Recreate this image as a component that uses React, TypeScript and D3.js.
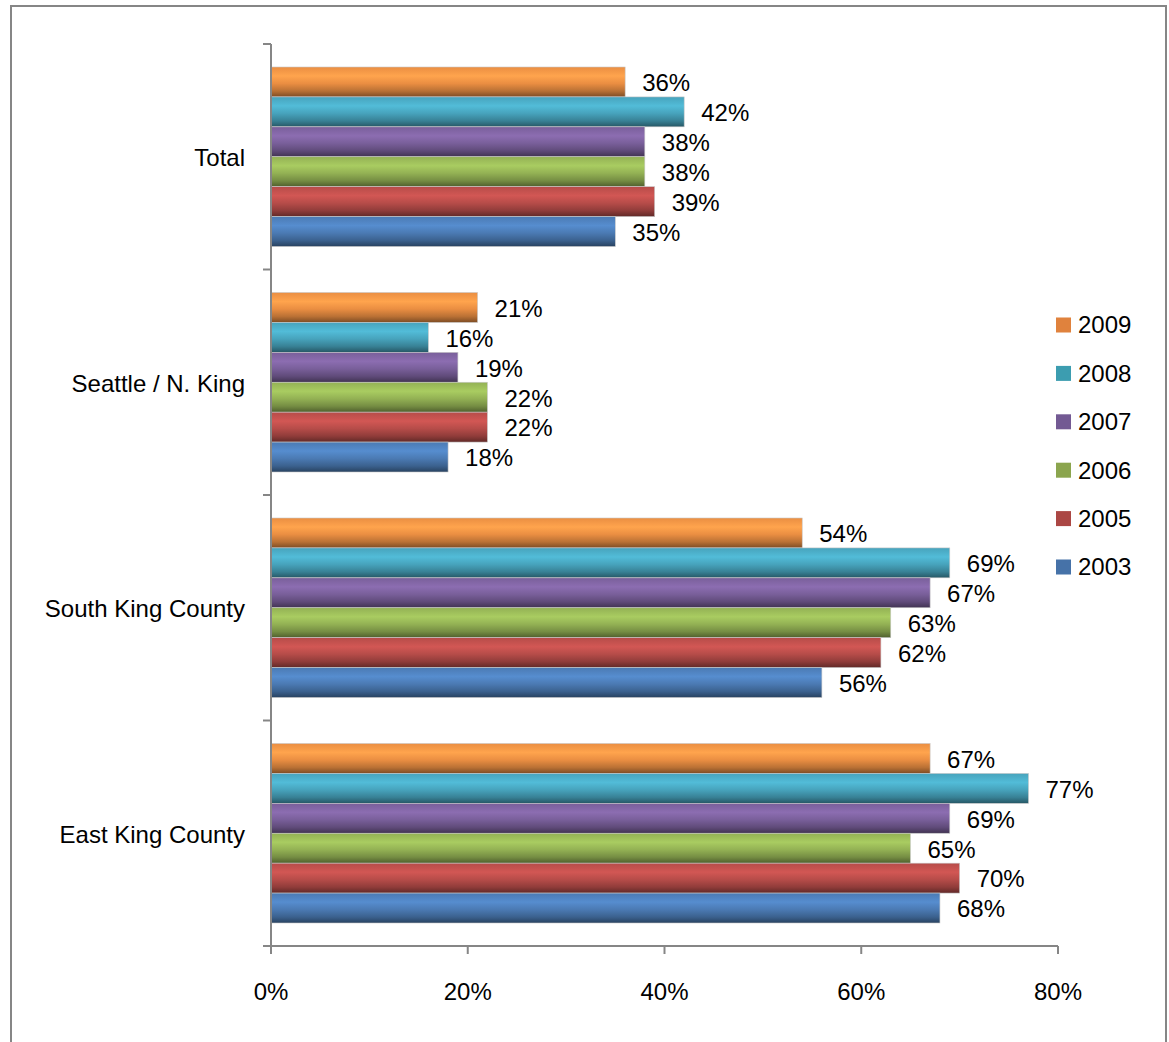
import React from "react";
import * as d3 from "d3";

const categories = ["Total", "Seattle / N. King", "South King County", "East King County"];
const years = ["2009", "2008", "2007", "2006", "2005", "2003"];
const barColors = ["#F79646", "#4BACC6", "#8064A2", "#9BBB59", "#C0504D", "#4F81BD"];
const legendColors = ["#E0823D", "#3C9DB0", "#735A93", "#8BA54E", "#AB4744", "#4672A8"];
// values[year][category]
const v2009 = [36, 21, 54, 67];
const v2008 = [42, 16, 69, 77];
const v2007 = [38, 19, 67, 69];
const v2006 = [38, 22, 63, 65];
const v2005 = [39, 22, 62, 70];
const v2003 = [35, 18, 56, 68];
const seriesValues = [v2009, v2008, v2007, v2006, v2005, v2003];
const xTicks = [0, 20, 40, 60, 80];

const W = 1169;
const H = 1042;
const plot = { left: 271, right: 1058, top: 44, bottom: 946 };
const FONT = "'Liberation Sans', Arial, sans-serif";
const FS = 24;

export default function App() {
  const x = d3.scaleLinear().domain([0, 80]).range([plot.left, plot.right]);
  const y0 = d3.scaleBand<string>().domain(categories).range([plot.top, plot.bottom]).paddingInner(0).paddingOuter(0);
  const innerPad = 23;
  const y1 = d3
    .scaleBand<string>()
    .domain(years)
    .range([innerPad, y0.bandwidth() - innerPad])
    .padding(0);

  const gradStops = (base: string) => {
    const c = d3.color(base)!;
    return [
      { o: 0, c: c.darker(0.15).formatHex() },
      { o: 0.3, c: c.brighter(0.25).formatHex() },
      { o: 0.55, c: c.darker(0.15).formatHex() },
      { o: 0.8, c: c.darker(0.8).formatHex() },
      { o: 1, c: c.darker(1.9).formatHex() },
    ];
  };

  const catTickYs = categories.map((c) => y0(c)!).concat([plot.bottom]);

  return (
    <svg
      width={W}
      height={H}
      style={{ position: "absolute", left: 0, top: 0, background: "#fff" }}
      fontFamily={FONT}
    >
      <defs>
        {barColors.map((bc, i) => (
          <linearGradient key={i} id={`g${i}`} x1="0" y1="0" x2="0" y2="1">
            {gradStops(bc).map((s, j) => (
              <stop key={j} offset={s.o} stopColor={s.c} />
            ))}
          </linearGradient>
        ))}
      </defs>
      {/* outer border */}
      <rect x={11} y={6} width={1155} height={1060} fill="none" stroke="#868686" strokeWidth={2} />

      {/* bars */}
      {categories.map((cat, ci) => (
        <g key={cat} transform={`translate(0,${y0(cat)})`}>
          {years.map((yr, si) => {
            const val = seriesValues[si][ci];
            const yy = y1(yr)!;
            return (
              <g key={yr}>
                <rect
                  x={x(0)}
                  y={yy}
                  width={x(val) - x(0)}
                  height={y1.bandwidth()}
                  fill={`url(#g${si})`}
                  stroke="#c8c8c8"
                  strokeWidth={0.6}
                />
                <text
                  x={x(val) + 17}
                  y={yy + y1.bandwidth() / 2 + 3}
                  dominantBaseline="middle"
                  fontSize={FS}
                  fill="#000"
                >
                  {val}%
                </text>
              </g>
            );
          })}
        </g>
      ))}

      {/* y axis */}
      <line x1={plot.left} x2={plot.left} y1={plot.top} y2={plot.bottom} stroke="#868686" strokeWidth={2} />
      {catTickYs.map((ty, i) => (
        <line key={i} x1={plot.left - 8} x2={plot.left} y1={ty} y2={ty} stroke="#868686" strokeWidth={2} />
      ))}
      {categories.map((cat) => (
        <text
          key={cat}
          x={245}
          y={y0(cat)! + y0.bandwidth() / 2 + 3}
          textAnchor="end"
          dominantBaseline="middle"
          fontSize={FS}
          fill="#000"
        >
          {cat}
        </text>
      ))}

      {/* x axis */}
      <line x1={plot.left - 8} x2={plot.right} y1={plot.bottom} y2={plot.bottom} stroke="#868686" strokeWidth={2} />
      {xTicks.map((t) => (
        <g key={t}>
          <line x1={x(t)} x2={x(t)} y1={plot.bottom} y2={plot.bottom + 8} stroke="#868686" strokeWidth={2} />
          <text x={x(t)} y={994} textAnchor="middle" dominantBaseline="middle" fontSize={FS} fill="#000">
            {t}%
          </text>
        </g>
      ))}

      {/* legend */}
      {years.map((yr, i) => {
        const ly = 325 + i * 48.4;
        return (
          <g key={yr}>
            <rect x={1056} y={ly - 7.5} width={15} height={15} fill={legendColors[i]} />
            <text x={1078} y={ly + 2} dominantBaseline="middle" fontSize={FS} fill="#000">
              {yr}
            </text>
          </g>
        );
      })}
    </svg>
  );
}
